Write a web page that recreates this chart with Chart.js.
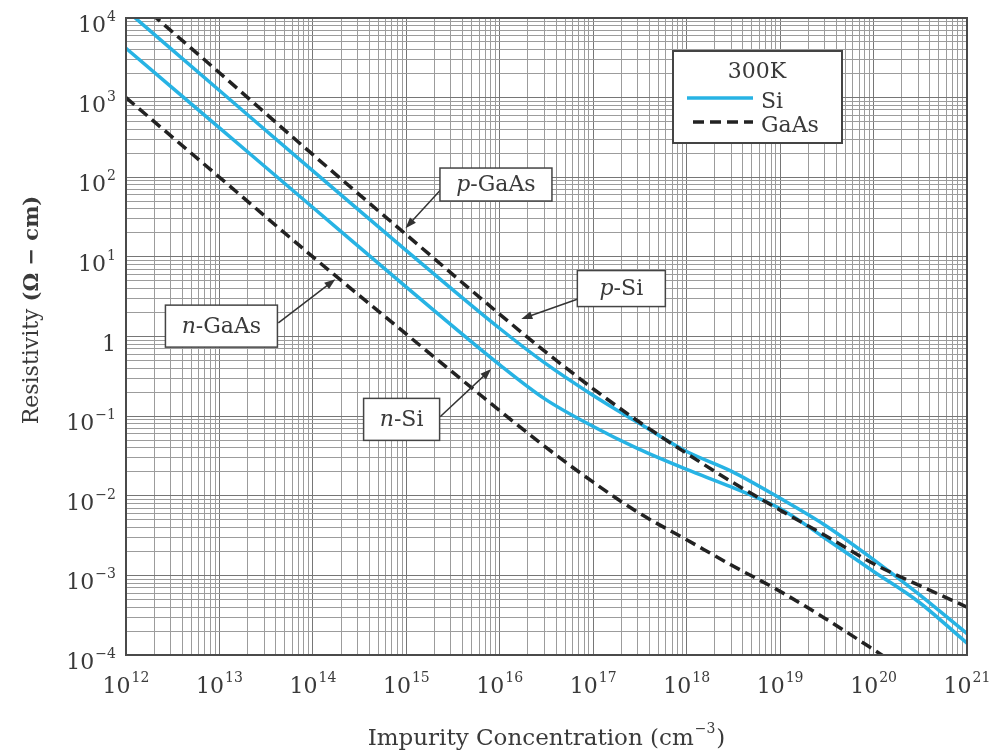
<!DOCTYPE html>
<html>
<head>
<meta charset="utf-8">
<title>Resistivity vs impurity concentration</title>
<script src="https://cdn.jsdelivr.net/npm/chart.js@4.4.1/dist/chart.umd.min.js"></script>
<style>
  html, body { margin: 0; padding: 0; background: #fff; }
  #wrap { width: 998px; height: 754px; }
</style>
</head>
<body>
<div id="wrap"><canvas id="grafico" width="998" height="754"></canvas></div>
<script>
// concentrações (cm^-3) onde as curvas foram lidas
const concentracao = [1e12, 1e13, 1e14, 1e15, 1e16, 3e16, 1e17, 3e17, 1e18, 3e18, 1e19, 3e19, 1e20, 3e20, 1e21];
// resistividade (ohm-cm) de cada curva
const rhoNSi   = [4170, 417, 41.7, 4.17, 0.44, 0.166, 0.074, 0.039, 0.0214, 0.0129, 0.0069, 0.00295, 0.00112, 4.7e-4, 1.41e-4];
const rhoPSi   = [12600, 1230, 120, 12.0, 1.26, 0.47, 0.182, 0.083, 0.036, 0.0204, 0.0093, 0.0043, 0.00158, 5.9e-4, 1.86e-4];
const rhoNGaAs = [1000, 100, 10, 1.07, 0.117, 0.042, 0.0148, 0.0062, 0.0028, 0.00135, 6.3e-4, 2.9e-4, 1.17e-4, 5e-5, null];
const rhoPGaAs = [21400, 2050, 192, 19, 1.9, 0.66, 0.22, 0.087, 0.034, 0.0151, 0.0066, 0.0032, 0.0014, 7.6e-4, 4.0e-4];

// expoentes dos rótulos dos eixos
const expoentesX = [12, 13, 14, 15, 16, 17, 18, 19, 20, 21];
const expoentesY = [-4, -3, -2, -1, 0, 1, 2, 3, 4];

// caixas de texto com seta (posições em coordenadas dos dados)
const rotulos = [
  { ital: 'p', resto: '-GaAs', centro: [9.1e15, 81],   w: 112, h: 33, saida: [2.4e15, 72],   ponta: [9.8e14, 22.9] },
  { ital: 'n', resto: '-GaAs', centro: [1.05e13, 1.35], w: 112, h: 42, saida: [4.27e13, 1.48], ponta: [1.74e14, 5.25] },
  { ital: 'n', resto: '-Si',   centro: [8.9e14, 0.091], w: 76,  h: 42, saida: [2.3e15, 0.098], ponta: [8.1e15, 0.39] },
  { ital: 'p', resto: '-Si',   centro: [2.0e17, 4.0],   w: 88,  h: 36, saida: [7.1e16, 3.0],   ponta: [1.7e16, 1.66] }
];

const AZUL = '#27b3e4';
const PRETO = '#222';
const FONTE = '"DejaVu Serif", "Liberation Serif", serif';
const TEXTO = '#3a3a3a';

// linhas da grade: 1..9 em cada década
function linhasGrade(de, ate) {
  const v = [];
  for (let e = de; e < ate; e++) {
    for (let m = 1; m <= 9; m++) v.push(m * Math.pow(10, e));
  }
  v.push(Math.pow(10, ate));
  return v.map(value => ({ value }));
}

function ehDecada(v) {
  const l = Math.log10(v);
  return Math.abs(l - Math.round(l)) < 1e-9;
}

// escreve "10" com expoente
function potencia(ctx, exp, x, y, alinhar) {
  const base = exp === 0 ? '1' : '10';
  const sup = exp === 0 ? '' : String(exp).replace('-', '\u2212');
  ctx.font = '22px ' + FONTE;
  const wb = ctx.measureText(base).width;
  ctx.font = '14px ' + FONTE;
  const ws = sup ? ctx.measureText(sup).width + 1 : 0;
  const total = wb + ws;
  let x0 = alinhar === 'right' ? x - total : x - total / 2;
  ctx.textAlign = 'left';
  ctx.textBaseline = 'alphabetic';
  ctx.fillStyle = TEXTO;
  ctx.font = '22px ' + FONTE;
  ctx.fillText(base, x0, y);
  if (sup) {
    ctx.font = '14px ' + FONTE;
    ctx.fillText(sup, x0 + wb + 1, y - 11);
  }
}

function seta(ctx, x1, y1, x2, y2) {
  const ang = Math.atan2(y2 - y1, x2 - x1);
  ctx.strokeStyle = '#333';
  ctx.fillStyle = '#333';
  ctx.lineWidth = 1.5;
  ctx.beginPath();
  ctx.moveTo(x1, y1);
  ctx.lineTo(x2 - 6 * Math.cos(ang), y2 - 6 * Math.sin(ang));
  ctx.stroke();
  ctx.beginPath();
  ctx.moveTo(x2, y2);
  ctx.lineTo(x2 - 11 * Math.cos(ang) + 4 * Math.sin(ang), y2 - 11 * Math.sin(ang) - 4 * Math.cos(ang));
  ctx.lineTo(x2 - 11 * Math.cos(ang) - 4 * Math.sin(ang), y2 - 11 * Math.sin(ang) + 4 * Math.cos(ang));
  ctx.closePath();
  ctx.fill();
}

const enfeites = {
  id: 'enfeites',
  afterDatasetsDraw(chart) {
    const { ctx, chartArea: a, scales: { x, y } } = chart;
    ctx.save();

    // caixas com setas
    rotulos.forEach(r => {
      const cx = x.getPixelForValue(r.centro[0]);
      const cy = y.getPixelForValue(r.centro[1]);
      const sx = x.getPixelForValue(r.saida[0]);
      const sy = y.getPixelForValue(r.saida[1]);
      const px = x.getPixelForValue(r.ponta[0]);
      const py = y.getPixelForValue(r.ponta[1]);
      seta(ctx, sx, sy, px, py);
      ctx.fillStyle = '#fff';
      ctx.fillRect(cx - r.w / 2, cy - r.h / 2, r.w, r.h);
      ctx.strokeStyle = '#444';
      ctx.lineWidth = 1.5;
      ctx.strokeRect(cx - r.w / 2, cy - r.h / 2, r.w, r.h);
      ctx.font = 'italic 22px ' + FONTE;
      const wi = ctx.measureText(r.ital).width;
      ctx.font = '22px ' + FONTE;
      const wr = ctx.measureText(r.resto).width;
      const x0 = cx - (wi + wr) / 2;
      ctx.fillStyle = TEXTO;
      ctx.textAlign = 'left';
      ctx.textBaseline = 'middle';
      ctx.font = 'italic 22px ' + FONTE;
      ctx.fillText(r.ital, x0, cy + 1);
      ctx.font = '22px ' + FONTE;
      ctx.fillText(r.resto, x0 + wi, cy + 1);
    });

    // legenda
    const lx = a.right - 294, ly = a.top + 33, lw = 169, lh = 92;
    ctx.fillStyle = '#fff';
    ctx.fillRect(lx, ly, lw, lh);
    ctx.strokeStyle = '#444';
    ctx.lineWidth = 2;
    ctx.strokeRect(lx, ly, lw, lh);
    ctx.fillStyle = TEXTO;
    ctx.font = '22px ' + FONTE;
    ctx.textAlign = 'center';
    ctx.textBaseline = 'alphabetic';
    ctx.fillText('300K', lx + 84, ly + 27);
    const itens = chart.data.datasets.filter(d => d.mostrarLegenda);
    itens.forEach((d, i) => {
      const yy = ly + 47 + i * 24;
      ctx.strokeStyle = d.borderColor;
      ctx.lineWidth = d.borderWidth;
      ctx.setLineDash(d.borderDash || []);
      ctx.beginPath();
      ctx.moveTo(lx + (d.borderDash ? 20 : 14), yy);
      ctx.lineTo(lx + 80, yy);
      ctx.stroke();
      ctx.setLineDash([]);
      ctx.fillStyle = TEXTO;
      ctx.textAlign = 'left';
      ctx.fillText(d.nomeLegenda, lx + 88, yy + 10);
    });

    // moldura
    ctx.strokeStyle = '#4a4a4a';
    ctx.lineWidth = 2;
    ctx.strokeRect(a.left, a.top, a.right - a.left, a.bottom - a.top);
    ctx.restore();
  },
  afterDraw(chart) {
    const { ctx, chartArea: a, scales: { x, y } } = chart;
    ctx.save();
    expoentesX.forEach(e => potencia(ctx, e, x.getPixelForValue(Math.pow(10, e)), a.bottom + 38, 'center'));
    expoentesY.forEach(e => potencia(ctx, e, a.left - 10, y.getPixelForValue(Math.pow(10, e)) + 14, 'right'));

    // título do eixo x
    const t1 = 'Impurity Concentration (cm', t2 = '\u22123', t3 = ')';
    ctx.font = '23px ' + FONTE;
    const w1 = ctx.measureText(t1).width, w3 = ctx.measureText(t3).width;
    ctx.font = '14px ' + FONTE;
    const w2 = ctx.measureText(t2).width + 2;
    let x0 = (a.left + a.right) / 2 - (w1 + w2 + w3) / 2;
    const yb = 745;
    ctx.fillStyle = TEXTO;
    ctx.textAlign = 'left';
    ctx.textBaseline = 'alphabetic';
    ctx.font = '23px ' + FONTE;
    ctx.fillText(t1, x0, yb);
    ctx.font = '14px ' + FONTE;
    ctx.fillText(t2, x0 + w1 + 1, yb - 12);
    ctx.font = '23px ' + FONTE;
    ctx.fillText(t3, x0 + w1 + w2, yb);

    // título do eixo y
    const r1 = 'Resistivity ', r2 = '(\u03A9 \u2212 cm)';
    ctx.translate(38, 310);
    ctx.rotate(-Math.PI / 2);
    ctx.font = '22px ' + FONTE;
    const wr1 = ctx.measureText(r1).width;
    ctx.font = 'bold 21px ' + FONTE;
    const wr2 = ctx.measureText(r2).width;
    const s = -(wr1 + wr2) / 2;
    ctx.font = '22px ' + FONTE;
    ctx.fillText(r1, s, 0);
    ctx.font = 'bold 21px ' + FONTE;
    ctx.fillText(r2, s + wr1, 0);
    ctx.restore();
  }
};

function serie(valores) {
  return concentracao.map((n, i) => ({ x: n, y: valores[i] }));
}

const ctx = document.getElementById('grafico').getContext('2d');
new Chart(ctx, {
  type: 'line',
  data: {
    datasets: [
      { label: 'p-GaAs', data: serie(rhoPGaAs), borderColor: PRETO, borderWidth: 3.5, borderDash: [11, 6], mostrarLegenda: false },
      { label: 'n-GaAs', data: serie(rhoNGaAs), borderColor: PRETO, borderWidth: 3.5, borderDash: [11, 6], mostrarLegenda: false },
      { label: 'p-Si', data: serie(rhoPSi), borderColor: AZUL, borderWidth: 3.5, mostrarLegenda: true, nomeLegenda: 'Si' },
      { label: 'n-Si', data: serie(rhoNSi), borderColor: AZUL, borderWidth: 3.5, mostrarLegenda: false },
      { label: 'GaAs', data: [], borderColor: PRETO, borderWidth: 3.5, borderDash: [11, 6], mostrarLegenda: true, nomeLegenda: 'GaAs' }
    ]
  },
  options: {
    responsive: false,
    animation: false,
    events: [],
    layout: { padding: { left: 126, right: 31, top: 18, bottom: 99 } },
    elements: {
      point: { radius: 0 },
      line: { cubicInterpolationMode: 'monotone', fill: false }
    },
    spanGaps: true,
    plugins: { legend: { display: false }, tooltip: { enabled: false } },
    scales: {
      x: {
        type: 'logarithmic',
        min: 1e12, max: 1e21,
        afterBuildTicks: s => { s.ticks = linhasGrade(12, 21); },
        ticks: { display: false, autoSkip: false },
        grid: {
          drawTicks: false,
          color: c => ehDecada(c.tick.value) ? '#767676' : '#9c9c9c',
          lineWidth: 1
        },
        border: { display: false }
      },
      y: {
        type: 'logarithmic',
        min: 1e-4, max: 1e4,
        afterBuildTicks: s => { s.ticks = linhasGrade(-4, 4); },
        ticks: { display: false, autoSkip: false },
        grid: {
          drawTicks: false,
          color: c => ehDecada(c.tick.value) ? '#767676' : '#9c9c9c',
          lineWidth: 1
        },
        border: { display: false }
      }
    }
  },
  plugins: [enfeites]
});
</script>
</body>
</html>
